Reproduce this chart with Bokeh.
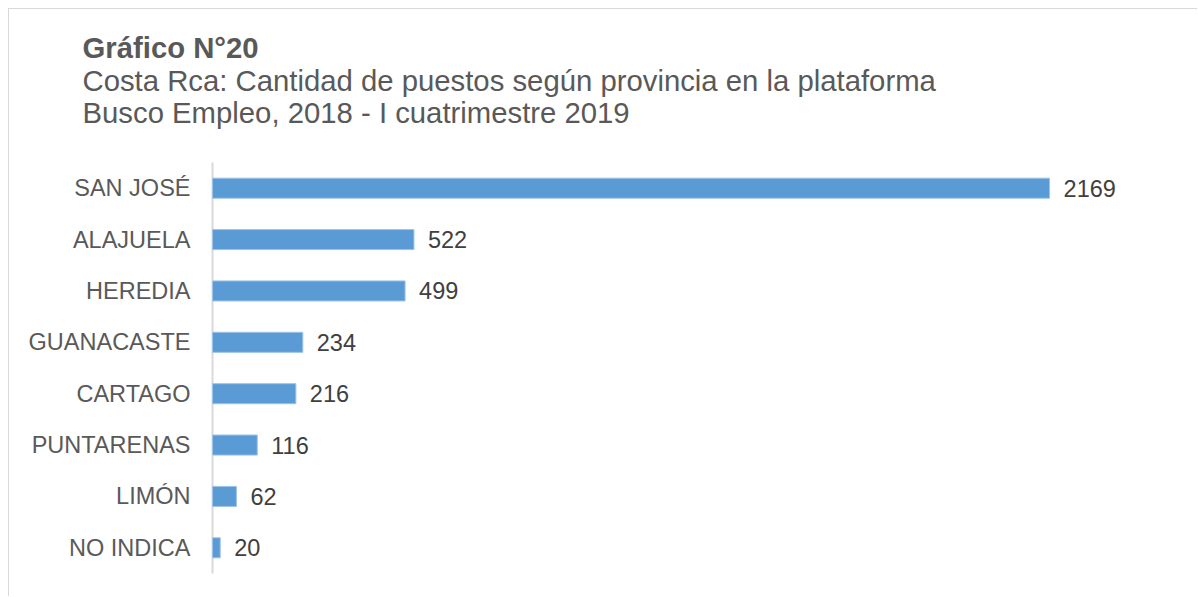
from bokeh.plotting import figure
from bokeh.models import Range1d, ColumnDataSource, LabelSet, Label
from bokeh.core.properties import value
from bokeh.embed import file_html
from bokeh.resources import INLINE

provincias = ["SAN JOSÉ", "ALAJUELA", "HEREDIA", "GUANACASTE", "CARTAGO", "PUNTARENAS", "LIMÓN", "NO INDICA"]
puestos = [2169, 522, 499, 234, 216, 116, 62, 20]
etiquetas = [str(v) for v in puestos]

titulo = "Gráfico N°20"
subtitulo = ["Costa Rca: Cantidad de puestos según provincia en la plataforma",
             "Busco Empleo, 2018 - I cuatrimestre 2019"]

FONT = "Liberation Sans"

# geometry of the canvas (figure occupies page x 9..1198, y 9..597)
W, H = 1189, 588
AXIS_X = 203          # canvas x of the value-axis origin
AXIS_BOTTOM = 564     # canvas y of the bottom of the category band
PX_PER_UNIT = 976 / 2529
PX_PER_CAT = 411 / len(provincias)

n = len(provincias)
ypos = [n - i - 0.5 for i in range(n)]

src = ColumnDataSource(dict(cat=provincias, y=ypos, val=puestos, lab=etiquetas))

x_start = -AXIS_X / PX_PER_UNIT
x_end = (W - AXIS_X) / PX_PER_UNIT
y_start = -(H - AXIS_BOTTOM) / PX_PER_CAT
y_end = AXIS_BOTTOM / PX_PER_CAT

p = figure(width=W, height=H, output_backend="svg", toolbar_location=None, title=None,
           x_range=Range1d(x_start, x_end), y_range=Range1d(y_start, y_end),
           min_border=0, min_border_left=0, min_border_right=0,
           min_border_top=0, min_border_bottom=0)
p.styles = {"border-top": "1px solid #D9D9D9", "border-left": "1px solid #D9D9D9",
            "margin-top": "8px", "margin-left": "8px"}
p.xaxis.visible = False
p.yaxis.visible = False
p.xgrid.visible = False
p.ygrid.visible = False
p.outline_line_color = None

# category axis line
p.segment(x0=[0], y0=[0], x1=[0], y1=[n], line_color="#D9D9D9", line_width=2)

p.hbar(y="y", right="val", left=0, height=0.39, source=src,
       fill_color="#5B9BD5", line_color="#9DC3E6", line_width=1)

# category labels
p.add_layout(LabelSet(x=0, y="y", text="cat", source=src, x_offset=-22,
                      text_align="right", text_baseline="middle",
                      text_font_size=value("23.5px"), text_color="#595959",
                      text_font=value(FONT)))
# value labels
p.add_layout(LabelSet(x="val", y="y", text="lab", source=src, x_offset=14,
                      text_baseline="middle", text_font_size=value("23.5px"),
                      text_color="#404040", text_font=value(FONT)))

# title block
tx = -130 / PX_PER_UNIT
baselines = [47, 80, 112]   # page y of each title line's anchor
texts = [(titulo, "bold")] + [(t, "normal") for t in subtitulo]
for (t, style), b in zip(texts, baselines):
    p.add_layout(Label(x=tx, y=(AXIS_BOTTOM - (b - 9)) / PX_PER_CAT, text=t,
                       text_font=FONT, text_font_size="29.3px", text_font_style=style,
                       text_color="#595959", text_baseline="alphabetic"))

open("out.html", "w").write(file_html(p, INLINE))
